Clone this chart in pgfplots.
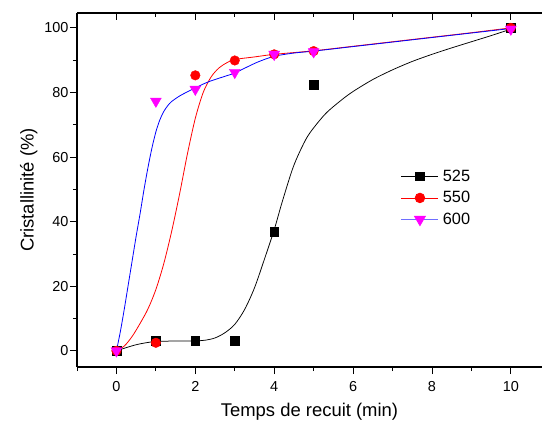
\documentclass[border=0pt]{standalone}
\usepackage{fontspec}
\setmainfont{Liberation Sans}
\usepackage{pgfplots}
\pgfplotsset{compat=1.18}
\definecolor{mag}{RGB}{255,0,255}
\definecolor{lblue}{RGB}{110,110,255}
\begin{document}
\begin{tikzpicture}
\pgfplotsset{
 common/.style={width=465bp,height=354bp,scale only axis,xmin=-1,xmax=10.79,ymin=-5,ymax=104.6,
   xtick={0,2,...,10}, minor xtick={-1,1,3,5,7,9},
   major tick length=7bp, minor tick length=4bp,
   every tick/.style={black, line width=0.9bp}}
}
\begin{axis}[common,
 axis x line*=box, axis y line*=left, axis line style={-, line width=1.1bp},
 ytick={0,20,...,100}, minor ytick={10,30,50,70,90},
 tick align=outside, xtick pos=bottom, ytick pos=left,
 tick label style={font=\fontsize{14.5}{17}\selectfont},
 xticklabel style={yshift=-4bp},
 yticklabel style={xshift=2bp},
 /pgf/number format/assume math mode=true,
 label style={font=\fontsize{18.5}{22}\selectfont},
 xlabel={Temps de recuit (min)}, ylabel={Cristallinité (\%)},
 xlabel style={yshift=-5bp},
 legend style={draw=none, fill=none, at={(0.69,0.568)}, anchor=north west,
   font=\fontsize{16.4}{19}\selectfont, row sep=4.5bp, column sep=2bp},
 legend cell align=left,
 legend image code/.code={\draw[mark repeat=2,mark phase=2,#1] plot coordinates {(0bp,0bp) (18.5bp,0bp) (37bp,0bp)};},
]
\addlegendimage{black, line width=0.8bp, mark=square*, mark size=4.3bp, mark options={fill=black}}
\addlegendentry{525}
\addlegendimage{red, line width=0.8bp, mark=*, mark size=4.8bp, mark options={fill=red, draw=red}}
\addlegendentry{550}
\addlegendimage{lblue, line width=0.8bp, mark=triangle*, mark size=6.3bp, mark options={fill=mag, draw=mag, rotate=180}}
\addlegendentry{600}
% fitted curves
\addplot[black, line width=0.75bp, smooth, forget plot] coordinates {
(0,0)(0.25,1)(0.5,1.9)(0.75,2.5)(1,2.9)(1.5,3.05)(2,3.1)(2.25,3.3)(2.5,4)(2.75,5.6)(3,8.2)(3.25,12.8)(3.5,19.5)(3.75,28.3)(4,37.5)(4.2,46)(4.47,56.5)(4.7,63)(4.9,67.4)(5.3,73.4)(5.7,77.6)(6,80.3)(6.5,84)(7,87)(7.5,89.6)(8,91.8)(8.5,93.8)(9,95.7)(9.5,97.6)(10,99.6)};
\addplot[red, line width=0.8bp, smooth, forget plot] coordinates {
(0,0)(0.2,1.5)(0.4,4.5)(0.6,8.5)(0.8,13)(1.0,19)(1.2,27)(1.4,37)(1.6,48.5)(1.8,61)(2.0,72)(2.2,80)(2.4,84.8)(2.6,87.6)(2.8,89.2)(3.0,90.2)(3.5,91)(4,91.8)(5,92.9)(6,94.3)(7,95.7)(8,97.1)(9,98.5)(10,100)};
\addplot[blue, line width=0.8bp, smooth, forget plot] coordinates {
(0,0)(0.1,6)(0.2,13)(0.3,20.5)(0.4,28)(0.5,35.5)(0.6,42.5)(0.7,50)(0.8,56.8)(0.9,62.8)(1.0,67.8)(1.1,71.5)(1.2,74.1)(1.3,75.9)(1.4,77.2)(1.6,78.9)(1.8,80.2)(2.0,81.4)(2.2,82.6)(2.4,83.6)(2.6,84.4)(2.8,85.2)(3.0,86)(3.3,87.8)(3.6,89.5)(4,91.2)(4.5,92.2)(5,92.8)(6,94.2)(7,95.6)(8,97.0)(9,98.4)(10,99.8)};
% data points
\addplot[only marks, mark=square*, mark size=4.3bp, black, forget plot] coordinates {
(0,0)(1,3.1)(2,3.1)(3,3.1)(4,36.9)(5,82.4)(10,100)};
\addplot[only marks, mark=*, mark size=4.8bp, red, mark options={fill=red}, forget plot] coordinates {
(0,0)(1,2.5)(2,85.3)(3,89.9)(4,91.8)(5,92.8)(10,100)};
\addplot[only marks, mark=triangle*, mark size=6.3bp, mag, mark options={fill=mag, rotate=180}, forget plot] coordinates {
(0,0)(1,77.3)(2,81)(3,86.2)(4,91.8)(5,92.6)(10,99.6)};
\end{axis}
\begin{axis}[common, hide y axis, axis line style={draw=none},
 xtick pos=top, tick align=inside, xticklabels={}]
\end{axis}
\pgfresetboundingbox
\path (current axis.south west) ++(-77bp,-62bp) coordinate (bbA);
\path (current axis.north east) ++(0bp,13bp) coordinate (bbB);
\useasboundingbox (bbA) rectangle (bbB);
\end{tikzpicture}
\end{document}
